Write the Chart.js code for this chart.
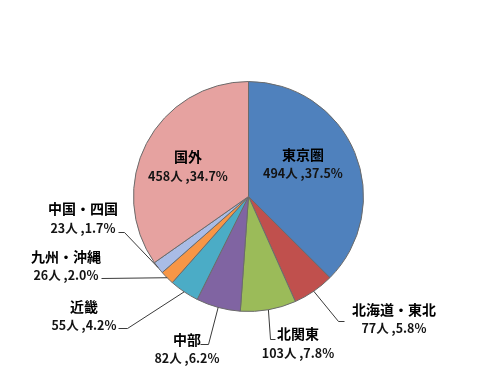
<!DOCTYPE html>
<html>
<head>
<meta charset="utf-8">
<script src="https://cdn.jsdelivr.net/npm/chart.js@4/dist/chart.umd.min.js"></script>
<style>
  html, body { margin: 0; padding: 0; background: #fff; }
  #wrap { width: 497px; height: 371px; }
</style>
</head>
<body>
<div id="wrap"><canvas id="grafico" width="497" height="371"></canvas></div>
<script>
// データ
const regioes = ["東京圏", "北海道・東北", "北関東", "中部", "近畿", "九州・沖縄", "中国・四国", "国外"];
const pessoas = [494, 77, 103, 82, 55, 26, 23, 458];
const porcentagens = ["37.5%", "5.8%", "7.8%", "6.2%", "4.2%", "2.0%", "1.7%", "34.7%"];

const cores = ["#4f81bd", "#c0504d", "#9bbb59", "#8064a2", "#4bacc6", "#f79646", "#a9bce6", "#e6a2a0"];

// posição dos rótulos e das linhas de chamada
const rotulos = [
    { x: 303, y: 155, dy: 18, linha: null },
    { x: 394, y: 310, dy: 18, linha: [[338, 321], [344, 321]] },
    { x: 298, y: 334, dy: 19, linha: [[270, 339], [275, 339]] },
    { x: 187, y: 340, dy: 18, linha: [[208, 344], [200, 344]] },
    { x: 84, y: 307, dy: 18, linha: [[127, 328], [118, 328]] },
    { x: 66, y: 257, dy: 18, linha: [[101, 278]] },
    { x: 83, y: 209, dy: 19, linha: [[124, 232], [118, 232]] },
    { x: 188, y: 157, dy: 19, linha: null }
];

const pluginRotulos = {
    id: 'rotulos',
    afterDatasetsDraw(chart) {
        const ctx = chart.ctx;
        const arcos = chart.getDatasetMeta(0).data;
        ctx.save();
        arcos.forEach((arco, i) => {
            const r = rotulos[i];
            if (r.linha) {
                const ang = (arco.startAngle + arco.endAngle) / 2;
                const px = arco.x + Math.cos(ang) * arco.outerRadius;
                const py = arco.y + Math.sin(ang) * arco.outerRadius;
                ctx.beginPath();
                ctx.moveTo(px, py);
                r.linha.forEach(p => ctx.lineTo(p[0] + 0.5, p[1] + 0.5));
                ctx.strokeStyle = '#3a3a3a';
                ctx.lineWidth = 1;
                ctx.stroke();
            }
            ctx.fillStyle = '#000';
            ctx.textAlign = 'center';
            ctx.textBaseline = 'middle';
            ctx.font = 'bold 14px "Noto Sans CJK JP"';
            ctx.fillText(regioes[i], r.x, r.y);
            ctx.font = 'bold 12.5px "Noto Sans CJK JP"';
            ctx.fillStyle = '#141414';
            ctx.fillText(`${pessoas[i]}人 ,${porcentagens[i]}`, r.x, r.y + r.dy);
        });
        ctx.restore();
    }
};

const ctx = document.getElementById('grafico').getContext('2d');
const grafico = new Chart(ctx, {
    type: 'pie',
    data: {
        labels: regioes,
        datasets: [{
            data: pessoas,
            backgroundColor: cores,
            borderColor: '#6b6b6b',
            borderWidth: 1
        }]
    },
    options: {
        responsive: false,
        animation: false,
        layout: { padding: { top: 81, bottom: 59, left: 0, right: 0 } },
        plugins: {
            legend: { display: false },
            tooltip: { enabled: false }
        }
    },
    plugins: [pluginRotulos]
});
</script>
</body>
</html>
